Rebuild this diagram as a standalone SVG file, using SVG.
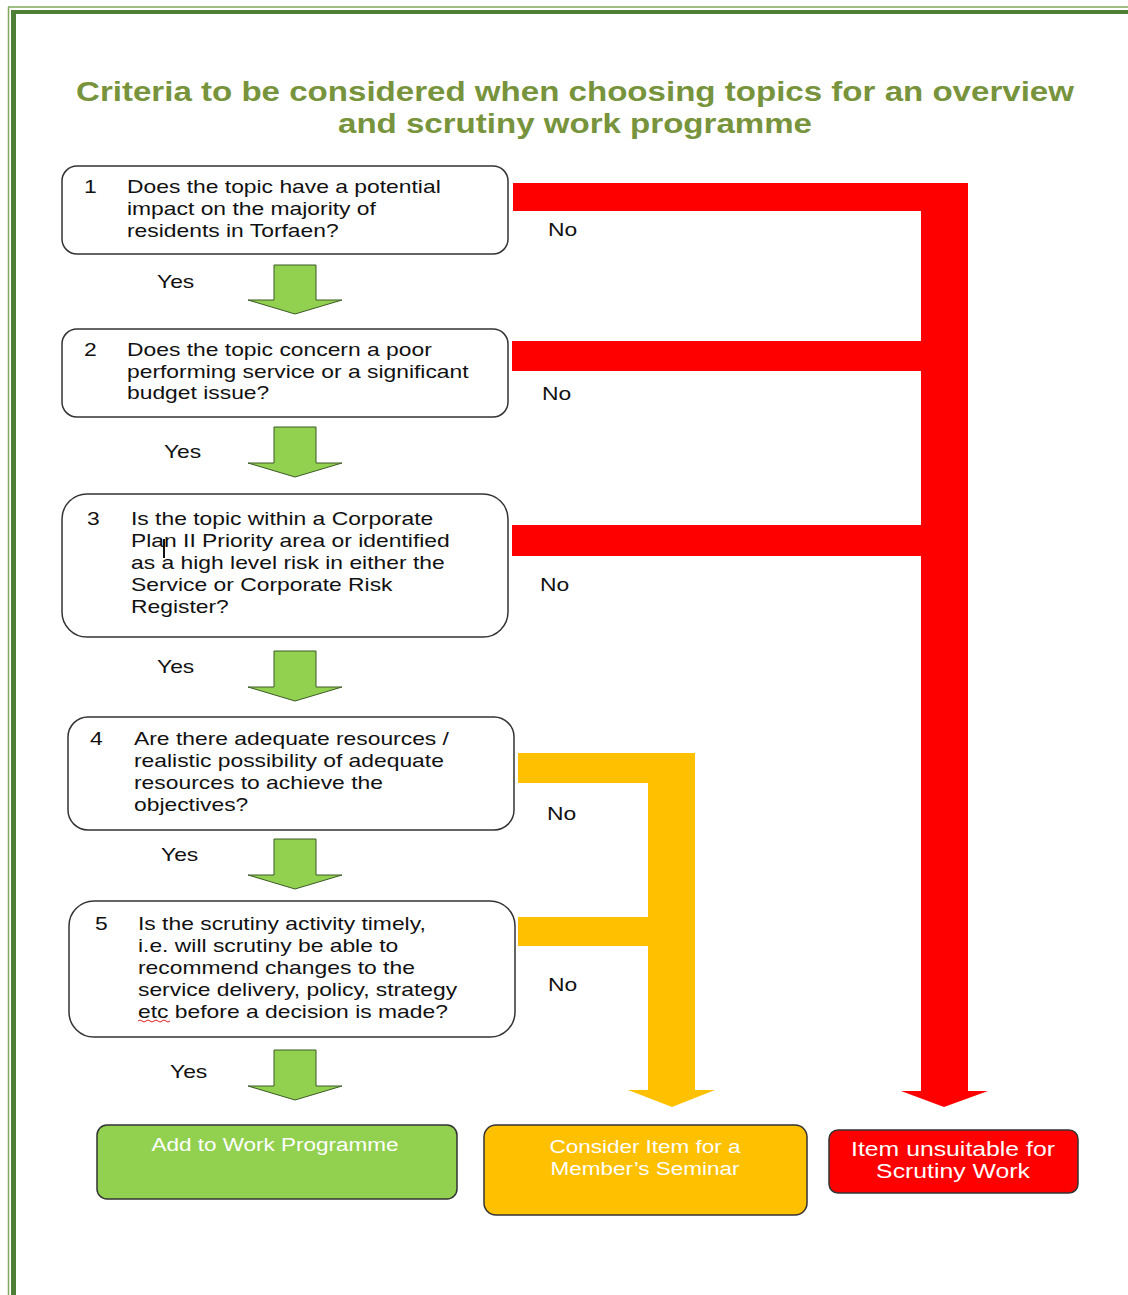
<svg xmlns="http://www.w3.org/2000/svg" width="1128" height="1295" viewBox="0 0 1128 1295">
<style>
.q{font-family:"Liberation Sans",Arial,sans-serif;font-size:18px;fill:#111}
.lbl{font-family:"Liberation Sans",Arial,sans-serif;font-size:18px;fill:#111}
.title{font-family:"Liberation Sans",Arial,sans-serif;font-size:27px;font-weight:bold;fill:#77933C}
.box{fill:#fff;stroke:#333;stroke-width:1.5}
.out{font-family:"Liberation Sans",Arial,sans-serif;font-size:18px;fill:#fff;text-anchor:middle}
.garrow{fill:#92D050;stroke:#3b5a25;stroke-width:1}
</style>
<rect width="1128" height="1295" fill="#fff"/>
<g id="border">
<line x1="8.5" y1="7" x2="8.5" y2="1295" stroke="#7FA85A" stroke-width="1.5"/>
<line x1="8" y1="7" x2="1128" y2="7" stroke="#7FA85A" stroke-width="1.5"/>
<rect x="11" y="10" width="5" height="1285" fill="#4F7F34"/>
<rect x="11" y="10" width="1117" height="4" fill="#4F7F34"/>
</g>
<g id="title">
<text class="title" x="575" y="101" text-anchor="middle" textLength="998" lengthAdjust="spacingAndGlyphs">Criteria to be considered when choosing topics for an overview</text>
<text class="title" x="575" y="133" text-anchor="middle" textLength="474" lengthAdjust="spacingAndGlyphs">and scrutiny work programme</text>
</g>
<g id="connectors">
<path d="M513,183 H968 V1091 H988 L944,1107 L901,1091 H921 V556 H512 V525 H921 V371 H512 V341 H921 V211 H513 Z" fill="#FF0000"/>
<path d="M518,753 H695 V1090 H715 L672,1107 L628,1090 H648 V946 H518 V917 H648 V783 H518 Z" fill="#FFC000"/>
<path class="garrow" d="M274,265 H316 V300 H342 L295,314 L248,300 H274 Z"/>
<path class="garrow" d="M274,427 H316 V463 H342 L295,477 L248,463 H274 Z"/>
<path class="garrow" d="M274,651 H316 V687 H342 L295,701 L248,687 H274 Z"/>
<path class="garrow" d="M274,839 H316 V875 H342 L295,889 L248,875 H274 Z"/>
<path class="garrow" d="M274,1050 H316 V1086 H342 L295,1100 L248,1086 H274 Z"/>
<text class="lbl" x="157" y="288" transform="matrix(1.27,0,0,1,-42.39,0)">Yes</text>
<text class="lbl" x="164" y="458" transform="matrix(1.27,0,0,1,-44.28,0)">Yes</text>
<text class="lbl" x="157" y="673" transform="matrix(1.27,0,0,1,-42.39,0)">Yes</text>
<text class="lbl" x="161" y="861" transform="matrix(1.27,0,0,1,-43.47,0)">Yes</text>
<text class="lbl" x="170" y="1078" transform="matrix(1.27,0,0,1,-45.9,0)">Yes</text>
<text class="lbl" x="548" y="236" transform="matrix(1.27,0,0,1,-147.96,0)">No</text>
<text class="lbl" x="542" y="400" transform="matrix(1.27,0,0,1,-146.34,0)">No</text>
<text class="lbl" x="540" y="591" transform="matrix(1.27,0,0,1,-145.8,0)">No</text>
<text class="lbl" x="547" y="820" transform="matrix(1.27,0,0,1,-147.69,0)">No</text>
<text class="lbl" x="548" y="991" transform="matrix(1.27,0,0,1,-147.96,0)">No</text>
</g>
<g id="q1">
<rect class="box" x="62" y="166" width="446" height="88" rx="15"/>
<text class="q" x="84" y="193" transform="matrix(1.27,0,0,1,-22.68,0)">1</text>
<g transform="matrix(1.27,0,0,1,-34.29,0)">
<text class="q" x="127" y="193">Does the topic have a potential</text>
<text class="q" x="127" y="215">impact on the majority of</text>
<text class="q" x="127" y="237">residents in Torfaen?</text>
</g>
</g>
<g id="q2">
<rect class="box" x="62" y="329" width="446" height="88" rx="15"/>
<text class="q" x="84" y="356" transform="matrix(1.27,0,0,1,-22.68,0)">2</text>
<g transform="matrix(1.27,0,0,1,-34.29,0)">
<text class="q" x="127" y="356">Does the topic concern a poor</text>
<text class="q" x="127" y="378">performing service or a significant</text>
<text class="q" x="127" y="399">budget issue?</text>
</g>
</g>
<g id="q3">
<rect class="box" x="62" y="494" width="446" height="143" rx="25"/>
<text class="q" x="87" y="525" transform="matrix(1.27,0,0,1,-23.49,0)">3</text>
<g transform="matrix(1.27,0,0,1,-35.37,0)">
<text class="q" x="131" y="525">Is the topic within a Corporate</text>
<text class="q" x="131" y="547">Plan II Priority area or identified</text>
<text class="q" x="131" y="569">as a high level risk in either the</text>
<text class="q" x="131" y="591">Service or Corporate Risk</text>
<text class="q" x="131" y="613">Register?</text>
</g>
<line x1="164" y1="539" x2="164" y2="558" stroke="#111" stroke-width="2"/>
</g>
<g id="q4">
<rect class="box" x="68" y="717" width="446" height="113" rx="20"/>
<text class="q" x="90" y="745" transform="matrix(1.27,0,0,1,-24.3,0)">4</text>
<g transform="matrix(1.27,0,0,1,-36.18,0)">
<text class="q" x="134" y="745">Are there adequate resources /</text>
<text class="q" x="134" y="767">realistic possibility of adequate</text>
<text class="q" x="134" y="789">resources to achieve the</text>
<text class="q" x="134" y="811">objectives?</text>
</g>
</g>
<g id="q5">
<rect class="box" x="69" y="901" width="446" height="136" rx="25"/>
<text class="q" x="95" y="930" transform="matrix(1.27,0,0,1,-25.65,0)">5</text>
<g transform="matrix(1.27,0,0,1,-37.26,0)">
<text class="q" x="138" y="930">Is the scrutiny activity timely,</text>
<text class="q" x="138" y="952">i.e. will scrutiny be able to</text>
<text class="q" x="138" y="974">recommend changes to the</text>
<text class="q" x="138" y="996">service delivery, policy, strategy</text>
<text class="q" x="138" y="1018">etc before a decision is made?</text>
</g>
<path d="M138,1021 q2,-2 4,0 t4,0 t4,0 t4,0 t4,0 t4,0 t4,0 t4,0" fill="none" stroke="#E02020" stroke-width="1"/>
</g>
<g id="add">
<rect x="97" y="1125" width="360" height="74" rx="10" fill="#92D050" stroke="#333" stroke-width="1.5"/>
<text class="out" x="275" y="1151" transform="matrix(1.25,0,0,1,-68.75,0)">Add to Work Programme</text>
</g>
<g id="seminar">
<rect x="484" y="1125" width="323" height="90" rx="12" fill="#FFC000" stroke="#333" stroke-width="1.5"/>
<g transform="matrix(1.25,0,0,1,-161.25,0)">
<text class="out" x="645" y="1153">Consider Item for a</text>
<text class="out" x="645" y="1175">Member’s Seminar</text>
</g>
</g>
<g id="unsuitable">
<rect x="829" y="1130" width="249" height="63" rx="9" fill="#FF0000" stroke="#333" stroke-width="1.5"/>
<g transform="matrix(1.24,0,0,1,-228.72,0)">
<text class="out" x="953" y="1156" style="font-size:20px">Item unsuitable for</text>
<text class="out" x="953" y="1178" style="font-size:20px">Scrutiny Work</text>
</g>
</g>
</svg>
